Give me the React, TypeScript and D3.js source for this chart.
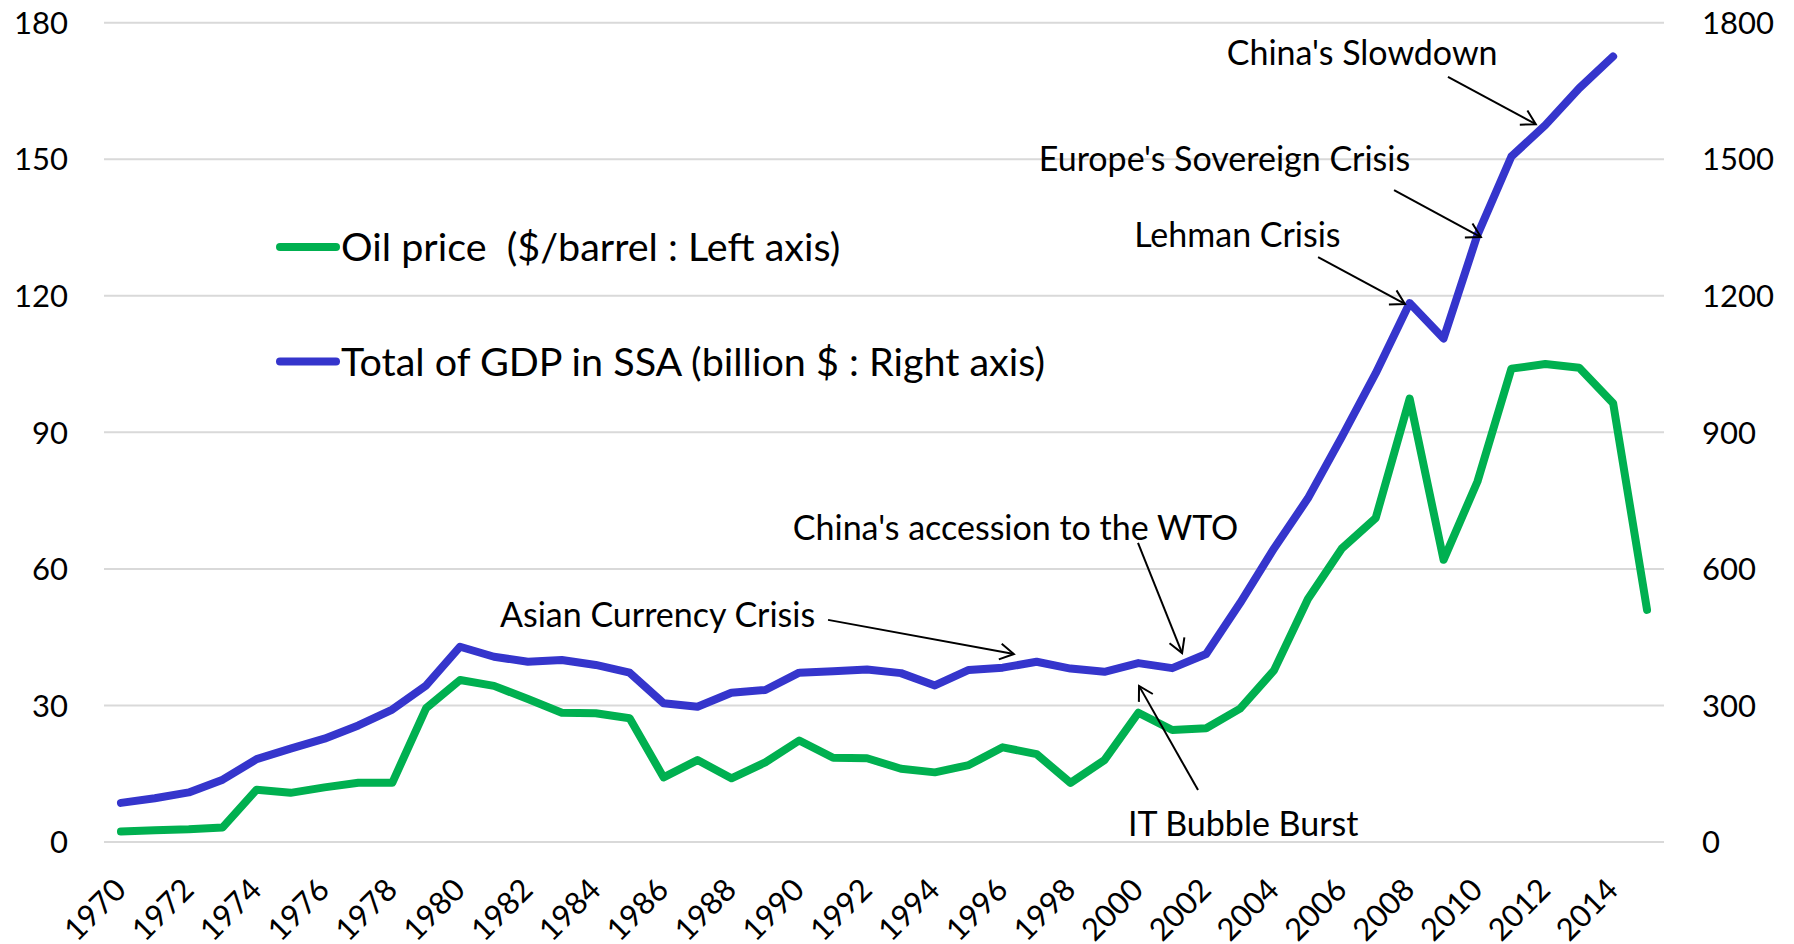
import * as d3 from "d3";
import React from "react";

// categories
const years = [
  1970, 1971, 1972, 1973, 1974, 1975, 1976, 1977, 1978, 1979,
  1980, 1981, 1982, 1983, 1984, 1985, 1986, 1987, 1988, 1989,
  1990, 1991, 1992, 1993, 1994, 1995, 1996, 1997, 1998, 1999,
  2000, 2001, 2002, 2003, 2004, 2005, 2006, 2007, 2008, 2009,
  2010, 2011, 2012, 2013, 2014, 2015,
];

// $/barrel, left axis
const oilPrice = [
  2.3, 2.6, 2.8, 3.2, 11.5, 10.8, 12.0, 13.0, 13.0, 29.4,
  35.6, 34.3, 31.4, 28.4, 28.3, 27.2, 14.2, 18.0, 14.0, 17.5,
  22.3, 18.5, 18.4, 16.1, 15.3, 16.9, 20.8, 19.3, 13.0, 18.0,
  28.4, 24.6, 25.0, 29.3, 37.7, 53.4, 64.5, 71.2, 97.4, 62.0,
  79.2, 104.0, 105.0, 104.2, 96.4, 51.0,
];

// billion $, right axis (no 2015 value)
const gdpSSA: (number | null)[] = [
  86, 96, 109, 137, 182, 205, 227, 256, 291, 344,
  429, 407, 396, 400, 389, 372, 305, 297, 328, 334,
  372, 375, 379, 371, 344, 378, 383, 396, 381, 374,
  393, 382, 413, 525, 645, 755, 890, 1030, 1184, 1106,
  1334, 1506, 1575, 1656, 1726, null,
];

const leftTicks = [0, 30, 60, 90, 120, 150, 180];
const rightTicks = [0, 300, 600, 900, 1200, 1500, 1800];
const yearLabels = years.filter((y) => y % 2 === 0);

// annotation text + arrow (year, GDP value on right axis)
const annotations = [
  { label: "China's Slowdown", tx: 2006.6, ty: 1733, anchor: "middle", from: [2009.13, 1681], to: [2011.72, 1577] },
  { label: "Europe's Sovereign Crisis", tx: 2002.54, ty: 1500, anchor: "middle", from: [2007.54, 1432], to: [2010.1, 1329] },
  { label: "Lehman Crisis", tx: 2002.92, ty: 1334, anchor: "middle", from: [2005.3, 1285], to: [2007.86, 1182] },
  { label: "China's accession to the WTO", tx: 1996.38, ty: 690, anchor: "middle", from: [1999.99, 657], to: [2001.29, 415] },
  { label: "Asian Currency Crisis", tx: 1990.47, ty: 499, anchor: "end", from: [1990.85, 488], to: [1996.33, 413] },
  { label: "IT Bubble Burst", tx: 2003.09, ty: 40, anchor: "middle", from: [2001.76, 114], to: [2000.02, 343] },
];

const legendItems = [
  { label: "Oil price  ($/barrel : Left axis)", color: "#00B050" },
  { label: "Total of GDP in SSA (billion $ : Right axis)", color: "#3535CC" },
];

const width = 1794;
const height = 944;
const font = "Lato, 'Open Sans', sans-serif";
const fontSize = 31;

export default function App() {
  const x = d3.scaleBand<number>().domain(years).range([104, 1664]);
  const cx = (yr: number) => (x(yr) ?? 0) + x.bandwidth() / 2;
  const xc = d3.scaleLinear([1970, 2015], [cx(1970), cx(2015)]);
  const yL = d3.scaleLinear([0, 180], [842, 22.7]);
  const yR = d3.scaleLinear([0, 1800], [842, 22.7]);

  const oilLine = d3
    .line<number>()
    .x((d, i) => cx(years[i]))
    .y((d) => yL(d));
  const gdpLine = d3
    .line<number | null>()
    .defined((d) => d != null)
    .x((d, i) => cx(years[i]))
    .y((d) => yR(d as number));

  const arrowHead = (x1: number, y1: number, x2: number, y2: number) => {
    const a = Math.atan2(y2 - y1, x2 - x1);
    const len = 16;
    const s = Math.PI / 6;
    const p1 = [x2 - len * Math.cos(a - s), y2 - len * Math.sin(a - s)];
    const p2 = [x2 - len * Math.cos(a + s), y2 - len * Math.sin(a + s)];
    return `M${p1[0]},${p1[1]}L${x2},${y2}L${p2[0]},${p2[1]}`;
  };

  return (
    <svg
      width={width}
      height={height}
      style={{ position: "absolute", left: 0, top: 0, background: "#fff" }}
      fontFamily={font}
      fontSize={fontSize}
    >
      {/* gridlines */}
      <g stroke="#D9D9D9" strokeWidth={2}>
        {leftTicks.map((t) => (
          <line key={t} x1={104} x2={1664} y1={yL(t)} y2={yL(t)} />
        ))}
      </g>
      {/* left axis labels */}
      <g textAnchor="end" fill="#000">
        {leftTicks.map((t) => (
          <text key={t} x={68} y={yL(t)} dy="0.36em">
            {t}
          </text>
        ))}
      </g>
      {/* right axis labels */}
      <g textAnchor="start" fill="#000">
        {rightTicks.map((t) => (
          <text key={t} x={1702} y={yR(t)} dy="0.36em">
            {t}
          </text>
        ))}
      </g>
      {/* x axis labels */}
      <g textAnchor="end" fill="#000">
        {yearLabels.map((yr) => (
          <text
            key={yr}
            transform={`translate(${cx(yr) - 1},${884}) rotate(-45)`}
            dy="0.36em"
          >
            {yr}
          </text>
        ))}
      </g>
      {/* series */}
      <path
        d={gdpLine(gdpSSA) ?? undefined}
        fill="none"
        stroke="#3535CC"
        strokeWidth={8}
        strokeLinejoin="round"
        strokeLinecap="round"
      />
      <path
        d={oilLine(oilPrice) ?? undefined}
        fill="none"
        stroke="#00B050"
        strokeWidth={8}
        strokeLinejoin="round"
        strokeLinecap="round"
      />
      {/* legend */}
      {legendItems.map((l, i) => (
        <g key={l.label} transform={`translate(0,${247 + i * 114.5})`}>
          <line x1={280} x2={336} y1={0} y2={0} stroke={l.color} strokeWidth={8} strokeLinecap="round" />
          <text x={341} y={0} dy="0.36em" fill="#000" fontSize={39.5} style={{ whiteSpace: "pre" }}>
            {l.label}
          </text>
        </g>
      ))}
      {/* annotations */}
      {annotations.map((a) => {
        const x1 = xc(a.from[0]);
        const y1 = yR(a.from[1]);
        const x2 = xc(a.to[0]);
        const y2 = yR(a.to[1]);
        return (
          <g key={a.label}>
            <text x={xc(a.tx)} y={yR(a.ty)} dy="0.36em" textAnchor={a.anchor as any} fill="#000" fontSize={34}>
              {a.label}
            </text>
            <line x1={x1} y1={y1} x2={x2} y2={y2} stroke="#000" strokeWidth={2} />
            <path d={arrowHead(x1, y1, x2, y2)} fill="none" stroke="#000" strokeWidth={2} />
          </g>
        );
      })}
    </svg>
  );
}
